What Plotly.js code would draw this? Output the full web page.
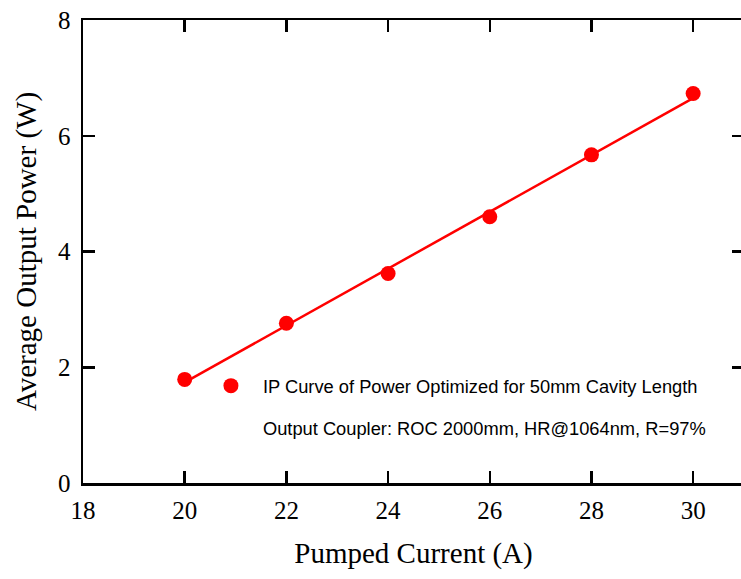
<!DOCTYPE html>
<html>
<head>
<meta charset="utf-8">
<script src="https://cdn.plot.ly/plotly-3.0.1.min.js"></script>
<style>
html, body { margin: 0; padding: 0; overflow: hidden; background: #fff; }
#chart { width: 745px; height: 579px; }
</style>
</head>
<body>
<div id="chart"></div>
<script>
// Measured data: pumped current (A) vs average output power (W)
const currentA = [20, 22, 24, 26, 28, 30];
const powerW = [1.79, 2.76, 3.62, 4.60, 5.67, 6.73];
// Linear fit line as drawn in the reference (end points)
const fitX = [20, 30];
const fitY = [1.74, 6.65];
const seriesName = "IP Curve of Power Optimized for 50mm Cavity Length";
const noteName = "Output Coupler: ROC 2000mm, HR@1064nm, R=97%";
const xTicks = [18, 20, 22, 24, 26, 28, 30];
const yTicks = [0, 2, 4, 6, 8];

const red = "#ff0000";
const serif = "Liberation Serif, Times New Roman, serif";
const sans = "Liberation Sans, Arial, sans-serif";

const traces = [
  {
    x: fitX, y: fitY, mode: "lines", type: "scatter",
    line: { color: red, width: 2.5 }, showlegend: false, hoverinfo: "skip"
  },
  {
    x: currentA, y: powerW, mode: "markers", type: "scatter", name: seriesName,
    marker: { color: red, size: 15 }, legendgroup: "a"
  },
  {
    x: [null], y: [null], mode: "markers", type: "scatter", name: noteName,
    marker: { color: "rgba(0,0,0,0)", size: 15 }, legendgroup: "b"
  }
];

const axisCommon = {
  showline: true, linecolor: "#000", linewidth: 2.5, mirror: "ticks",
  ticks: "inside", ticklen: 12, tickwidth: 2.5, tickcolor: "#000",
  showgrid: false, zeroline: false,
  tickfont: { family: serif, size: 25, color: "#000" }
};

const layout = {
  width: 745, height: 579,
  margin: { l: 83, r: 1, t: 20, b: 96 },
  paper_bgcolor: "#fff", plot_bgcolor: "#fff",
  xaxis: Object.assign({}, axisCommon, {
    range: [18, 31], tickvals: xTicks, ticktext: xTicks.map(String),
    ticklabelstandoff: 3,
    title: { text: "Pumped Current (A)", font: { family: serif, size: 29, color: "#000" }, standoff: 20 }
  }),
  yaxis: Object.assign({}, axisCommon, {
    range: [0, 8], tickvals: yTicks, ticktext: yTicks.map(String),
    ticklabelstandoff: 5,
    title: { text: "Average Output Power (W)", font: { family: serif, size: 29, color: "#000" }, standoff: 13 }
  }),
  showlegend: true,
  legend: {
    x: 0.1754, y: 0.25, xanchor: "left", yanchor: "top",
    bgcolor: "rgba(0,0,0,0)", borderwidth: 0,
    font: { family: sans, size: 18.3, color: "#000" },
    traceorder: "grouped", tracegroupgap: 15, itemwidth: 54
  }
};

Plotly.newPlot("chart", traces, layout, { displayModeBar: false, staticPlot: true });
</script>
</body>
</html>
